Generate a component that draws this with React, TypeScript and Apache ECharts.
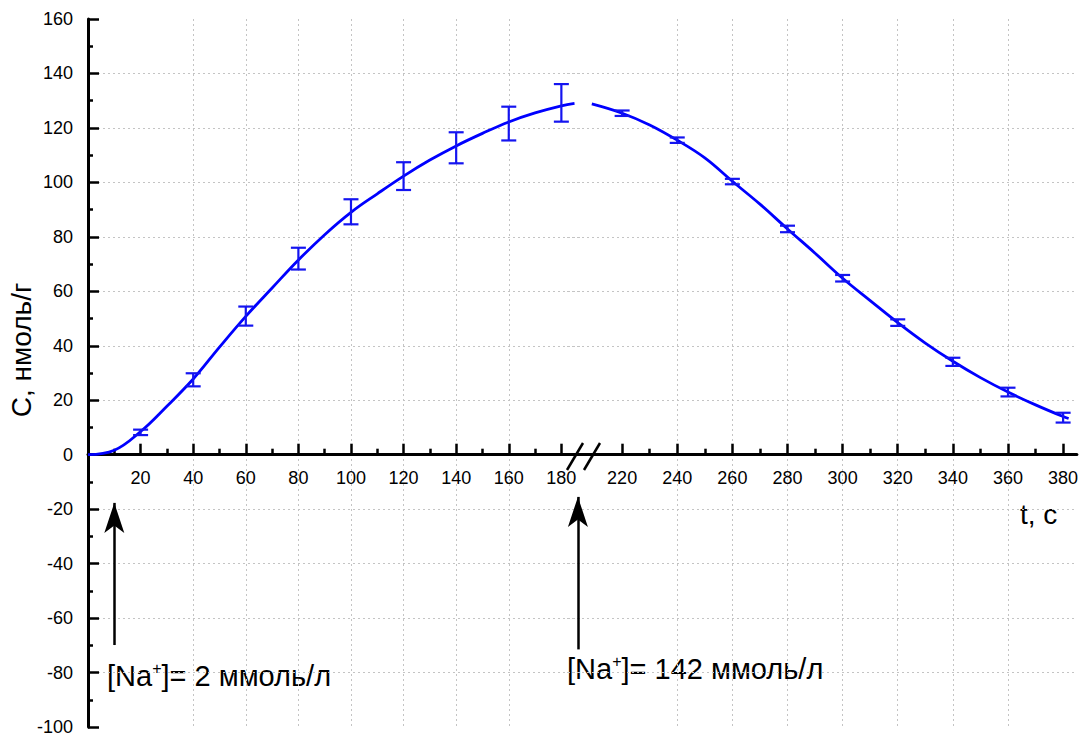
import React, { useEffect, useRef } from "react";
import * as echarts from "echarts";

// Fitted curve, first part ([Na+] = 2 mmol/l), t in s, C in nmol/g
const tLeft = [0, 10, 20, 30, 40, 50, 60, 70, 80, 90, 100, 110, 120, 130, 140, 150, 160, 170, 180, 185];
const cLeft = [0, 1.6, 8.5, 17.8, 27.8, 39.5, 50.8, 61.2, 71.5, 80.8, 89, 95.8, 102.3, 108.2, 113.4, 118, 122.2, 125.5, 128.1, 129.0];

// Fitted curve, second part ([Na+] = 142 mmol/l)
const tRight = [209, 220, 230, 240, 250, 260, 270, 280, 290, 300, 310, 320, 330, 340, 350, 360, 370, 380, 382];
const cRight = [128.8, 125.4, 121.1, 115.5, 109, 100.4, 92, 82.9, 74, 64.8, 56.6, 48.5, 41, 34.3, 28.3, 23, 18.3, 14, 13.3];

// Measured points with error bars
const tErrLeft = [20, 40, 60, 80, 100, 120, 140, 160, 180];
const mErrLeft = [8.2, 27.5, 50.9, 72, 89.2, 102.3, 112.7, 121.6, 129.2];
const eErrLeft = [1.0, 2.4, 3.5, 4.0, 4.6, 5.1, 5.7, 6.2, 6.9];

const tErrRight = [220, 240, 260, 280, 300, 320, 340, 360, 380];
const mErrRight = [125.4, 115.5, 100.3, 82.9, 64.8, 48.5, 34.1, 23.0, 13.6];
const eErrRight = [1.0, 1.0, 1.0, 1.2, 1.2, 1.2, 1.5, 1.6, 1.8];

// Axis ticks
const xTicksLeft = [20, 40, 60, 80, 100, 120, 140, 160, 180];
const xMinorLeft = [10, 30, 50, 70, 90, 110, 130, 150, 170];
const xTicksRight = [220, 240, 260, 280, 300, 320, 340, 360, 380];
const xMinorRight = [230, 250, 270, 290, 310, 330, 350, 370];
const yMin = -100;
const yMax = 160;

// Arrows: t, C(bottom), C(tip)
const arrow1 = [10, -69.9, -17.7];
const arrow2 = [186.3, -71.5, -15.5];

const FONT = "'Liberation Sans', Arial, Helvetica, sans-serif";
const BLUE = "#0000ff";
const GRID_COLOR = "#c4c4c4";
const GRID_TOP = 19;
const GRID_H = 708;

export default function App() {
  const ref = useRef<HTMLDivElement>(null);

  useEffect(() => {
    document.body.style.margin = "0";
    const chart = echarts.init(ref.current as HTMLDivElement, null, { renderer: "svg" });

    // x axes sit on C = 0: shift them up from the grid bottom
    const zeroOffset = -((0 - yMin) / (yMax - yMin)) * GRID_H;

    const errRender = (params: any, api: any) => {
      const x = api.value(0);
      const m = api.value(1);
      const e = api.value(2);
      const top = api.coord([x, m + e]);
      const bot = api.coord([x, m - e]);
      const hw = 7.5;
      const st = { stroke: "#1414f0", lineWidth: 2.2 };
      return {
        type: "group",
        children: [
          { type: "line", shape: { x1: top[0], y1: top[1], x2: bot[0], y2: bot[1] }, style: st },
          { type: "line", shape: { x1: top[0] - hw, y1: top[1], x2: top[0] + hw, y2: top[1] }, style: st },
          { type: "line", shape: { x1: bot[0] - hw, y1: bot[1], x2: bot[0] + hw, y2: bot[1] }, style: st },
        ],
      };
    };

    const splitLineStyle = { color: GRID_COLOR, type: [2, 3] as any, width: 1 };
    const labelStyle = { color: "#000", fontSize: 18, fontFamily: FONT };

    const mainX = (grid: number, min: number, max: number, ticks: number[]) => ({
      type: "value",
      gridIndex: grid,
      position: "bottom",
      offset: zeroOffset,
      min,
      max,
      interval: 20,
      axisLine: { show: true, onZero: false, lineStyle: { color: "#000", width: 3 } },
      axisTick: { show: true, inside: true, length: 11, customValues: ticks, lineStyle: { color: "#000", width: 2.5 } },
      axisLabel: { show: true, customValues: ticks, margin: 14, ...labelStyle },
      minorTick: { show: false },
      splitLine: { show: true, showMinLine: false, showMaxLine: false, lineStyle: splitLineStyle },
    });
    const minorX = (grid: number, min: number, max: number, ticks: number[]) => ({
      type: "value",
      gridIndex: grid,
      position: "bottom",
      offset: zeroOffset,
      min,
      max,
      interval: 20,
      axisLine: { show: false, onZero: false },
      axisTick: { show: true, inside: true, length: 6, customValues: ticks, lineStyle: { color: "#000", width: 2.5 } },
      axisLabel: { show: false },
      splitLine: { show: false },
    });

    const richText = (txt: string) => ({
      text: txt,
      fill: "#000",
      rich: {
        a: { fontSize: 29, fontFamily: FONT, lineHeight: 32, fill: "#000" },
        s: { fontSize: 16, fontFamily: FONT, lineHeight: 15, verticalAlign: "top", fill: "#000" },
      },
    });

    const option: any = {
      animation: false,
      backgroundColor: "#fff",
      grid: [
        { left: 88, top: GRID_TOP, width: 494.4, height: GRID_H, outerBoundsMode: "none", containLabel: false },
        { left: 567, top: GRID_TOP, width: 509.9, height: GRID_H, outerBoundsMode: "none", containLabel: false },
      ],
      xAxis: [
        mainX(0, 0, 188, xTicksLeft),
        minorX(0, 0, 188, xMinorLeft),
        mainX(1, 200, 385, xTicksRight),
        minorX(1, 200, 385, xMinorRight),
      ],
      yAxis: [
        {
          type: "value",
          gridIndex: 0,
          position: "left",
          min: yMin,
          max: yMax,
          interval: 20,
          axisLine: { show: true, onZero: false, lineStyle: { color: "#000", width: 3 } },
          axisTick: { show: true, inside: true, length: 11, lineStyle: { color: "#000", width: 2.5 } },
          minorTick: { show: true, splitNumber: 2, length: 5, lineStyle: { color: "#000", width: 2.5 } },
          axisLabel: { show: true, margin: 15, ...labelStyle },
          splitLine: { show: true, showMinLine: false, showMaxLine: false, lineStyle: splitLineStyle },
        },
        {
          type: "value",
          gridIndex: 1,
          position: "left",
          min: yMin,
          max: yMax,
          interval: 20,
          axisLine: { show: false, onZero: false },
          axisTick: { show: false },
          axisLabel: { show: false },
          splitLine: { show: true, showMinLine: false, showMaxLine: false, lineStyle: splitLineStyle },
        },
      ],
      series: [
        {
          type: "line",
          xAxisIndex: 0,
          yAxisIndex: 0,
          data: tLeft.map((t, i) => [t, cLeft[i]]),
          smooth: 0.4,
          showSymbol: false,
          lineStyle: { color: BLUE, width: 2.8 },
          z: 3,
          markLine: {
            silent: true,
            symbol: ["none", "arrow"],
            symbolSize: [15, 30],
            label: { show: false },
            lineStyle: { color: "#000", width: 2.5, type: "solid" },
            data: [
              [{ coord: [arrow1[0], arrow1[1]] }, { coord: [arrow1[0], arrow1[2]] }],
              [{ coord: [arrow2[0], arrow2[1]] }, { coord: [arrow2[0], arrow2[2]] }],
            ],
          },
        },
        {
          type: "line",
          xAxisIndex: 2,
          yAxisIndex: 1,
          data: tRight.map((t, i) => [t, cRight[i]]),
          smooth: 0.4,
          showSymbol: false,
          lineStyle: { color: BLUE, width: 2.8 },
          z: 3,
        },
        {
          type: "custom",
          xAxisIndex: 0,
          yAxisIndex: 0,
          data: tErrLeft.map((t, i) => [t, mErrLeft[i], eErrLeft[i]]),
          encode: { x: 0, y: 1 },
          renderItem: errRender,
          z: 4,
        },
        {
          type: "custom",
          xAxisIndex: 2,
          yAxisIndex: 1,
          data: tErrRight.map((t, i) => [t, mErrRight[i], eErrRight[i]]),
          encode: { x: 0, y: 1 },
          renderItem: errRender,
          z: 4,
        },
      ],
      graphic: [
        { type: "line", shape: { x1: 567, y1: 470, x2: 583, y2: 443 }, style: { stroke: "#000", lineWidth: 2.5 }, z: 10 },
        { type: "line", shape: { x1: 584, y1: 470, x2: 600, y2: 443 }, style: { stroke: "#000", lineWidth: 2.5 }, z: 10 },
        {
          type: "text",
          x: 21,
          y: 350,
          rotation: Math.PI / 2,
          style: { text: "C, нмоль/г", fontSize: 28, fontFamily: FONT, fill: "#000", align: "center", verticalAlign: "middle" },
        },
        {
          type: "text",
          left: 1020,
          top: 500,
          style: { text: "t, с", fontSize: 28, fontFamily: FONT, fill: "#000" },
        },
        { type: "text", left: 107, top: 660, style: richText("{a|[Na}{s|+}{a|]= 2 ммоль/л}") },
        { type: "text", left: 567, top: 653, style: richText("{a|[Na}{s|+}{a|]= 142 ммоль/л}") },
      ],
    };

    chart.setOption(option);
    return () => chart.dispose();
  }, []);

  return (
    <div
      ref={ref}
      style={{ position: "fixed", left: 0, top: 0, width: 1087, height: 736, background: "#fff" }}
    />
  );
}
